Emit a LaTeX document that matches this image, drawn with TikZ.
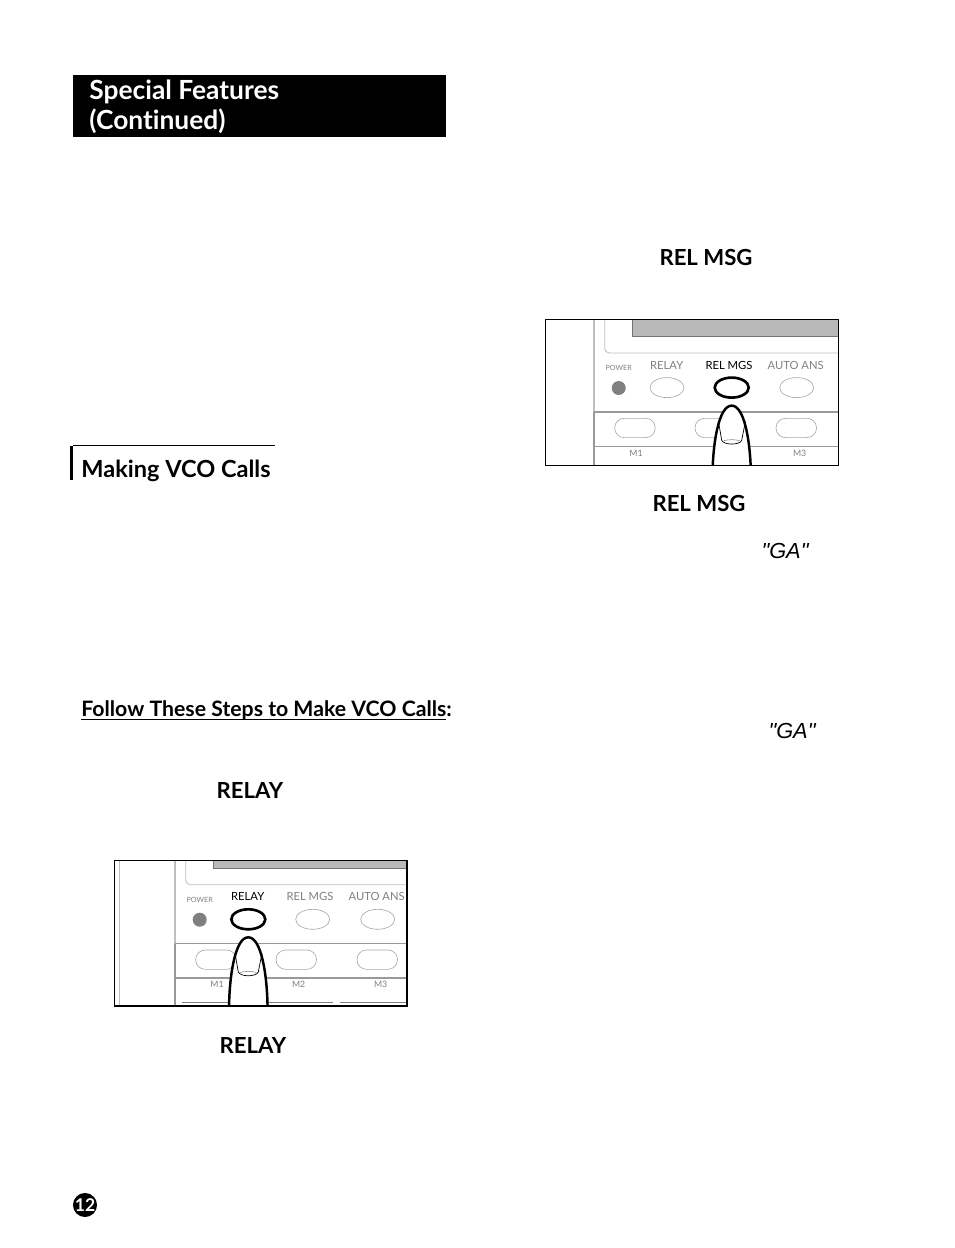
\documentclass[tikz,border=0pt]{standalone}
\usepackage{fontspec}
\usepackage{xcolor}
\usepackage{tikz}
\setmainfont{Lato}[Ligatures={TeX,NoCommon}]
\newfontfamily\gafont{Liberation Sans}
\usetikzlibrary{positioning}

\begin{document}
\begin{tikzpicture}[x=0.02cm,y=-0.02cm,
        headtext/.style={anchor=base west,inner sep=0pt,font=\fontsize{15}{15}\selectfont\bfseries},
        keyword/.style={anchor=base,inner sep=0pt,font=\fontsize{12.6}{12.6}\selectfont\bfseries},
        quoted/.style={anchor=base,inner sep=0pt,font=\fontsize{12.4}{12.4}\gafont\itshape},
        keylabel/.style={inner sep=0pt,font=\fontsize{6.4}{6.4}\selectfont},
        smalllabel/.style={inner sep=0pt,text=gray,font=\fontsize{4.1}{4.1}\selectfont},
        softkey/.style={draw=gray!70,line width=0.35pt,fill=white},
        panelline/.style={draw=gray!80,line width=0.6pt},
        pressed/.style={draw=black,line width=1.5pt,fill=white},
        fingerline/.style={draw=black,line width=1.4pt,fill=white}]
        \useasboundingbox (0,0) rectangle (954,1248);

        % Title bar
        \fill[black] (73,75) rectangle (446,137);
        \node[headtext,text=white] (title1) at (89,99.6) {Special Features};
        \node[headtext,text=white] (title2) at (89,129.5) {(Continued)};

        % Section heading
        \fill[black] (69.5,446) rectangle (73,480);
        \draw[black,line width=0.6pt] (73,445.7) -- (275,445.7);
        \node[headtext,font=\fontsize{13.4}{13.4}\selectfont\bfseries] (making) at (81,477) {Making VCO Calls};

        % Steps heading
        \node[anchor=base west,inner sep=0pt,font=\fontsize{12.1}{12.1}\selectfont\bfseries] (steps) at (81,716.5) {\underline{\smash{Follow These Steps to Make VCO Calls}}:};

        % Words in the text
        \node[keyword] (relmsg1) at (706,265) {REL MSG};
        \node[keyword] (relmsg2) at (699,511.5) {REL MSG};
        \node[quoted] (ga1) at (785,558) {"GA"};
        \node[quoted] (ga2) at (792,738) {"GA"};
        \node[keyword] (relay1) at (250,798.5) {RELAY};
        \node[keyword] (relay2) at (253,1053.5) {RELAY};

        % Both panels, same drawing with a shift
        \foreach \ox/\oy/\xa/\ya/\xb/\yb/\fx/\tag/\mtwo/\cola/\colb in {0/0/114.3/860.7/407/1006/248.3/a/M2/black/gray,
                419/-531.7/126.7/851/419.3/997/312.7/b//gray/black} {
            \begin{scope}[shift={(\ox,\oy)}]
                \begin{scope}
                    \clip (\xa,\ya) rectangle (\xb,\yb);
                    % Case and screen
                    \draw[gray!50,line width=0.6pt] (119.7,840) -- (119.7,1010);
                    \draw[gray!50,line width=0.8pt] (175,840) -- (175,943.7);
                    \draw[gray!50,line width=0.5pt,rounded corners=2.6pt] (185.7,840) -- (185.7,884.7) -- (430,884.7);
                    \fill[gray!55] (213,840) rectangle (430,868);
                    \draw[gray!90!black,line width=0.5pt] (213,840) -- (213,868) -- (430,868);

                    % Top row of keys
                    \node[smalllabel] (power\tag) at (199.7,900) {POWER};
                    \fill[gray] (199.7,919.7) circle (7);
                    \node[keylabel,text=\cola] (relay\tag) at (247.7,896.7) {RELAY};
                    \node[keylabel,text=\colb] (relmgs\tag) at (310,896.7) {REL MGS};
                    \node[keylabel,text=gray] (autoans\tag) at (376.7,896.7) {AUTO ANS};
                    \foreach \x in {248,312.7,377.7} {
                        \draw[softkey] (\x,919.3) ellipse (17 and 10);
                    }

                    % Memory keys
                    \draw[panelline] (175,943.7) -- (430,943.7);
                    \draw[gray!80,line width=1pt] (175,978.3) -- (430,978.3);
                    \draw[panelline] (175,943.7) -- (175,1010);
                    \foreach \x in {195.7,276,357} {
                        \draw[softkey,rounded corners=5.4pt] (\x,950) rectangle ++(40.5,19.3);
                    }
                    \node[smalllabel,font=\fontsize{5}{5}\selectfont] (mone\tag) at (217,984.7) {M1};
                    \node[smalllabel,font=\fontsize{5}{5}\selectfont] (mtwo\tag) at (298.7,984.7) {\mtwo};
                    \node[smalllabel,font=\fontsize{5}{5}\selectfont] (mthree\tag) at (380.7,984.7) {M3};
                    \draw[gray,line width=0.4pt] (182,1002.3) -- (250,1002.3);
                    \draw[gray,line width=0.4pt] (268,1002.3) -- (333,1002.3);
                    \draw[gray,line width=0.4pt] (340,1002.3) -- (430,1002.3);

                    % Pressed key and finger
                    \draw[pressed] (\fx,919.3) ellipse (17 and 10);
                    \draw[fingerline] (\fx-19.3,1012)
                        .. controls (\fx-19.3,975) and (\fx-13,937.3) .. (\fx,937.3)
                        .. controls (\fx+13,937.3) and (\fx+19.3,975) .. (\fx+19.3,1012);
                    \draw[black,line width=0.4pt] (\fx-13.3,953) -- (\fx-10,972)
                        .. controls (\fx-8,977) and (\fx+8,977) .. (\fx+10,972) -- (\fx+13.7,953);
                    \draw[gray,line width=0.3pt] (\fx-8,972.5) .. controls (\fx-4,971) and (\fx+4,971) .. (\fx+8,972.5);
                \end{scope}
                % Frame
                \draw[black,line width=0.6pt] (\xa,\ya) rectangle (\xb,\yb);
            \end{scope}
        }

        % Page number
        \node[circle,fill=black,text=white,minimum size=21*0.02cm,inner sep=0pt,font=\fontsize{10}{10}\selectfont\bfseries] (pagenum) at (85,1205) {12};
    \end{tikzpicture}
\end{document}
